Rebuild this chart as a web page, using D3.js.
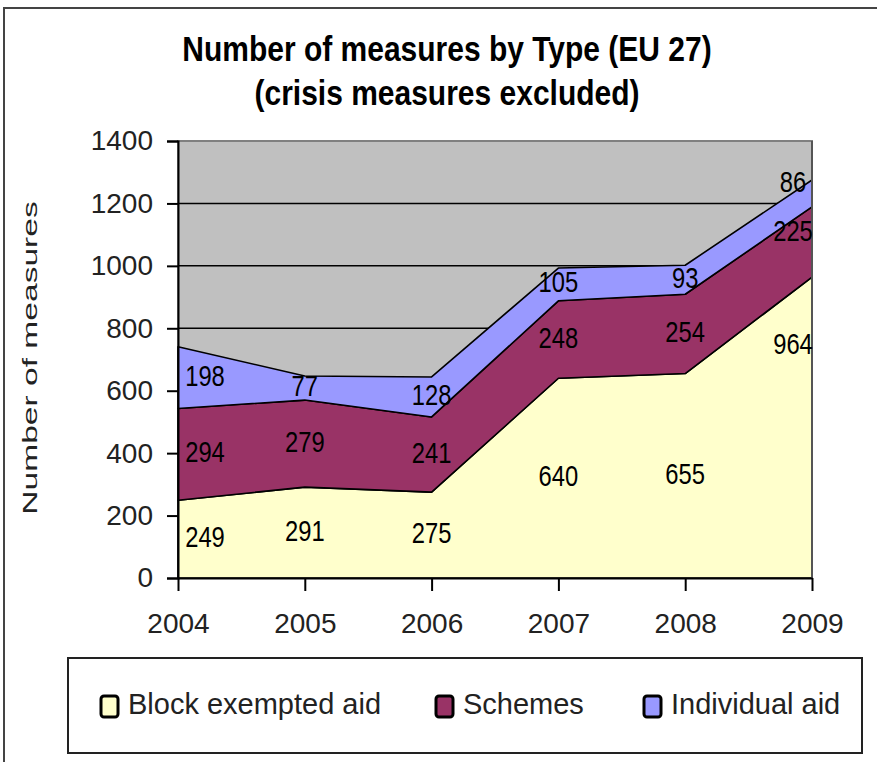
<!DOCTYPE html>
<html>
<head>
<meta charset="utf-8">
<script src="https://cdn.jsdelivr.net/npm/d3@7"></script>
<style>
  body { margin: 0; background: #fff; }
  text { font-family: "Liberation Sans", Arial, sans-serif; }
</style>
</head>
<body>
<div id="chart"></div>
<script>
const years = ["2004", "2005", "2006", "2007", "2008", "2009"];
const blockExempted = [249, 291, 275, 640, 655, 964];
const schemes = [294, 279, 241, 248, 254, 225];
const individual = [198, 77, 128, 105, 93, 86];
const seriesNames = ["Block exempted aid", "Schemes", "Individual aid"];
const seriesColors = ["#FFFFCC", "#993366", "#9999FF"];
const yTicks = [0, 200, 400, 600, 800, 1000, 1200, 1400];

const width = 877, height = 762;
const plot = { left: 178, right: 812, top: 141, bottom: 578 };

const svg = d3.select("#chart").append("svg")
  .attr("width", width)
  .attr("height", height);

// outer frame (cropped on right and bottom)
svg.append("path")
  .attr("d", "M4,762 V8 H877")
  .attr("fill", "none")
  .attr("stroke", "#444")
  .attr("stroke-width", 2);

// title
const title = svg.append("g").attr("font-weight", "bold").attr("text-anchor", "middle");
title.append("text")
  .attr("transform", "translate(447,61) scale(1,1.18)")
  .attr("font-size", 30)
  .text("Number of measures by Type (EU 27)");
title.append("text")
  .attr("transform", "translate(447,105) scale(1,1.18)")
  .attr("font-size", 30)
  .text("(crisis measures excluded)");

// scales
const x = d3.scalePoint().domain(years).range([plot.left, plot.right]);
const y = d3.scaleLinear().domain([0, 1400]).range([plot.bottom, plot.top]);

// plot background + grid
svg.append("rect")
  .attr("x", plot.left).attr("y", plot.top)
  .attr("width", plot.right - plot.left).attr("height", plot.bottom - plot.top)
  .attr("fill", "#C0C0C0")
  .attr("stroke", "#808080")
  .attr("stroke-width", 2);

svg.append("g")
  .selectAll("line")
  .data(yTicks.filter(d => d > 0 && d < 1400))
  .join("line")
  .attr("x1", plot.left).attr("x2", plot.right)
  .attr("y1", d => y(d)).attr("y2", d => y(d))
  .attr("stroke", "#000")
  .attr("stroke-width", 1.5);

// stacked areas
const table = years.map((yr, i) => ({
  year: yr,
  "Block exempted aid": blockExempted[i],
  "Schemes": schemes[i],
  "Individual aid": individual[i]
}));
const stacked = d3.stack().keys(seriesNames)(table);

const area = d3.area()
  .x(d => x(d.data.year))
  .y0(d => y(d[0]))
  .y1(d => y(d[1]));

svg.append("g")
  .selectAll("path")
  .data(stacked)
  .join("path")
  .attr("d", area)
  .attr("fill", (d, i) => seriesColors[i])
  .attr("stroke", "#000")
  .attr("stroke-width", 1.6)
  .attr("stroke-linejoin", "round");

// right edge of plot
svg.append("line")
  .attr("x1", plot.right).attr("x2", plot.right)
  .attr("y1", plot.top).attr("y2", plot.bottom)
  .attr("stroke", "#555").attr("stroke-width", 2);

// axes
const yAxis = svg.append("g")
  .attr("transform", `translate(${plot.left},0)`)
  .call(d3.axisLeft(y).tickValues(yTicks).tickFormat(d3.format("d")).tickSize(11).tickPadding(14));
yAxis.select(".domain").attr("stroke", "#000").attr("stroke-width", 2);
yAxis.selectAll(".tick line").attr("stroke", "#000").attr("stroke-width", 2);
yAxis.selectAll("text")
  .attr("font-size", 28)
  .attr("fill", "#222")
  .attr("font-family", "Liberation Sans, Arial, sans-serif");

const xAxis = svg.append("g")
  .attr("transform", `translate(0,${plot.bottom})`)
  .call(d3.axisBottom(x).tickSize(13).tickPadding(22).tickSizeOuter(0));
xAxis.select(".domain").attr("stroke", "#000").attr("stroke-width", 2);
xAxis.selectAll(".tick line").attr("stroke", "#000").attr("stroke-width", 2);
xAxis.selectAll("text")
  .attr("font-size", 28)
  .attr("fill", "#222")
  .attr("font-family", "Liberation Sans, Arial, sans-serif");

// y axis title (stretched along its length like the original)
svg.append("text")
  .attr("transform", "translate(37,358) rotate(-90) scale(1.6,1)")
  .attr("text-anchor", "middle")
  .attr("font-size", 21)
  .attr("fill", "#222")
  .text("Number of measures");

// data labels, centred in each band; edge columns pulled inside the plot
const labels = svg.append("g").attr("font-size", 29).attr("text-anchor", "middle");
const last = years.length - 1;
stacked.forEach((s, si) => {
  s.forEach((d, i) => {
    const cx = Math.max(plot.left + 27, Math.min(plot.right - 19, x(d.data.year)));
    let v = (d[0] + d[1]) / 2;
    if (i === last) v = si === 0 ? d[0] + 0.77 * (d[1] - d[0]) : v + 30;
    const cy = y(v) + 8;
    labels.append("text")
      .attr("transform", `translate(${cx},${cy}) scale(0.82,1)`)
      .attr("fill", "#000")
      .text(d[1] - d[0]);
  });
});

// legend
const legend = svg.append("g");
legend.append("rect")
  .attr("x", 68).attr("y", 658)
  .attr("width", 794).attr("height", 95)
  .attr("fill", "#fff")
  .attr("stroke", "#222")
  .attr("stroke-width", 2);

const legendX = [101, 436, 644];
const items = legend.selectAll("g.item")
  .data(seriesNames)
  .join("g")
  .attr("class", "item")
  .attr("transform", (d, i) => `translate(${legendX[i]},706)`);
items.append("rect")
  .attr("x", 0).attr("y", -10)
  .attr("width", 17).attr("height", 21)
  .attr("rx", 3)
  .attr("fill", (d, i) => seriesColors[i])
  .attr("stroke", "#000")
  .attr("stroke-width", 3);
items.append("text")
  .attr("x", 27).attr("y", 8)
  .attr("transform", "scale(1,1.04)")
  .attr("font-size", 29)
  .attr("fill", "#222")
  .text(d => d);
</script>
</body>
</html>
